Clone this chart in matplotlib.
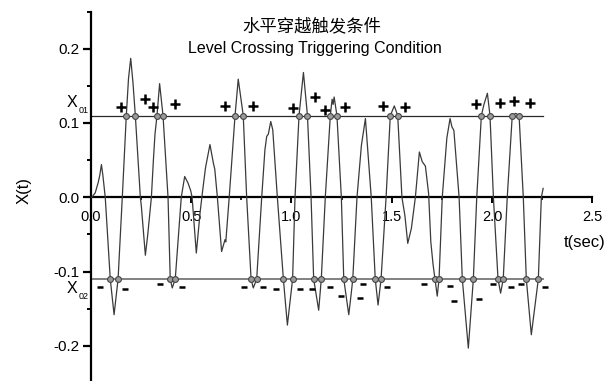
import matplotlib
matplotlib.use('Agg')
import matplotlib.pyplot as plt
from matplotlib.ticker import FixedLocator

# ---------------- data ----------------
t_sig = [0.005, 0.022, 0.037, 0.045, 0.053, 0.060, 0.072, 0.097, 0.116, 0.136,
         0.157, 0.177, 0.188, 0.199, 0.210, 0.222, 0.247, 0.252, 0.272, 0.284, 0.302, 0.312,
         0.320, 0.330, 0.343, 0.360, 0.385, 0.396, 0.406, 0.421, 0.451, 0.468,
         0.485, 0.498, 0.505, 0.526, 0.545, 0.558, 0.572, 0.594, 0.611, 0.618,
         0.631, 0.652, 0.669, 0.673, 0.690, 0.719, 0.735, 0.760, 0.777, 0.799,
         0.810, 0.827, 0.852, 0.868, 0.877, 0.885, 0.897, 0.907, 0.930, 0.960,
         0.980, 1.006, 1.018, 1.038, 1.060, 1.080, 1.098, 1.111, 1.136, 1.149,
         1.169, 1.194, 1.203, 1.208, 1.213, 1.227, 1.249, 1.261, 1.286, 1.298,
         1.306, 1.327, 1.349, 1.369, 1.398, 1.418, 1.432, 1.447, 1.472, 1.493,
         1.513, 1.530, 1.551, 1.566, 1.580, 1.598, 1.618, 1.638, 1.652, 1.668,
         1.684, 1.695, 1.706, 1.716, 1.727, 1.736, 1.752, 1.775, 1.791, 1.800,
         1.810, 1.836, 1.852, 1.882, 1.907, 1.924, 1.947, 1.960, 1.977, 1.990,
         2.007, 2.030, 2.043, 2.056, 2.076, 2.101, 2.118, 2.135, 2.156, 2.171,
         2.196, 2.231, 2.246, 2.255]
x_sig = [0.000, 0.006, 0.020, 0.030, 0.044, 0.030, 0.000, -0.110, -0.158, -0.110,
         0.000, 0.110, 0.160, 0.187, 0.155, 0.110, 0.000, -0.012, -0.078, -0.050, 0.000, 0.050,
         0.085, 0.110, 0.153, 0.110, 0.000, -0.110, -0.122, -0.110, 0.000, 0.028,
         0.019, 0.009, 0.000, -0.075, -0.020, 0.010, 0.040, 0.071, 0.046, 0.038,
         0.000, -0.073, -0.057, -0.060, 0.000, 0.110, 0.159, 0.110, 0.000, -0.110,
         -0.122, -0.110, 0.000, 0.064, 0.082, 0.085, 0.102, 0.091, 0.000, -0.110,
         -0.172, -0.110, 0.000, 0.110, 0.168, 0.110, 0.000, -0.110, -0.152, -0.110,
         0.000, 0.110, 0.132, 0.125, 0.135, 0.110, 0.000, -0.110, -0.158, -0.130,
         -0.110, 0.000, 0.070, 0.106, 0.000, -0.110, -0.145, -0.110, 0.000, 0.110,
         0.123, 0.110, 0.000, -0.025, -0.062, -0.042, 0.000, 0.061, 0.048, 0.042,
         0.005, -0.060, -0.090, -0.110, -0.133, -0.110, 0.000, 0.080, 0.106, 0.095,
         0.090, 0.000, -0.110, -0.203, -0.110, 0.000, 0.110, 0.125, 0.140, 0.110,
         0.000, -0.110, -0.129, -0.110, 0.000, 0.110, 0.113, 0.110, 0.000, -0.110,
         -0.185, -0.110, 0.000, 0.012]

level_up = 0.11
level_dn = -0.11
level_t_end = 2.253

t_cross_up = [0.177, 0.222, 0.330, 0.360, 0.719, 0.760, 1.038, 1.080, 1.194, 1.227,
              1.493, 1.530, 1.947, 1.990, 2.101, 2.135]
t_cross_dn = [0.097, 0.136, 0.396, 0.421, 0.799, 0.827, 0.960, 1.006, 1.111, 1.149,
              1.261, 1.306, 1.418, 1.447, 1.716, 1.736, 1.852, 1.907, 2.030, 2.056,
              2.171, 2.231]

plus_t = [0.153, 0.271, 0.311, 0.419, 0.669, 0.807, 1.009, 1.120, 1.166, 1.269,
          1.457, 1.568, 1.919, 2.040, 2.110, 2.190]
plus_x = [0.122, 0.132, 0.122, 0.125, 0.123, 0.123, 0.120, 0.135, 0.118, 0.122,
          0.123, 0.122, 0.126, 0.127, 0.129, 0.127]
minus_t = [0.047, 0.170, 0.344, 0.455, 0.763, 0.857, 0.922, 1.045, 1.101, 1.192,
           1.245, 1.340, 1.358, 1.478, 1.663, 1.791, 1.812, 1.937, 2.003, 2.095,
           2.145, 2.264]
minus_x = [-0.121, -0.123, -0.117, -0.121, -0.121, -0.121, -0.123, -0.123, -0.123, -0.121,
           -0.133, -0.136, -0.117, -0.121, -0.117, -0.120, -0.139, -0.137, -0.117, -0.121,
           -0.117, -0.121]

xticks = [0.0, 0.5, 1.0, 1.5, 2.0, 2.5]
xtick_labels = ['0.0', '0.5', '1.0', '1.5', '2.0', '2.5']
xminor = [0.25, 0.75, 1.25, 1.75, 2.25]
yticks = [-0.2, -0.1, 0.0, 0.1, 0.2]
ytick_labels = ['-0.2', '-0.1', '0.0', '0.1', '0.2']
yminor = [-0.25, -0.15, -0.05, 0.05, 0.15, 0.25]

title_cn = '水平穿越触发条件'
title_en = 'Level Crossing Triggering Condition'
xlabel = 't(sec)'
ylabel = 'X(t)'

# ---------------- figure ----------------
plt.rcParams['font.family'] = ['Liberation Sans', 'Noto Sans CJK SC', 'DejaVu Sans']

W, H = 616, 381
fig = plt.figure(figsize=(W / 100, H / 100), dpi=100)
ax = fig.add_axes([90.8 / W, 1 - 383.05 / H, (592.3 - 90.8) / W, 371.5 / H])
ax.set_xlim(0, 2.5)
ax.set_ylim(-0.25, 0.25)

for s in ['top', 'right']:
    ax.spines[s].set_visible(False)
ax.spines['bottom'].set_position(('data', 0))
ax.spines['left'].set_linewidth(1.6)
ax.spines['bottom'].set_linewidth(1.6)

ax.xaxis.set_major_locator(FixedLocator(xticks))
ax.set_xticklabels(xtick_labels)
ax.xaxis.set_minor_locator(FixedLocator(xminor))
ax.yaxis.set_major_locator(FixedLocator(yticks))
ax.set_yticklabels(ytick_labels)
ax.yaxis.set_minor_locator(FixedLocator(yminor))
ax.tick_params(axis='y', which='major', direction='out', length=6, width=1.6, labelsize=11, pad=2)
ax.tick_params(axis='y', which='minor', direction='out', length=3, width=1.4)
ax.tick_params(axis='x', which='major', direction='out', length=4.5, width=1.4, labelsize=10.5, pad=5)
ax.tick_params(axis='x', which='minor', direction='out', length=2.5, width=1.2)

# level lines
ax.plot([0, level_t_end], [level_up, level_up], color='#2a2a2a', lw=0.9, zorder=2)
ax.plot([0, level_t_end], [level_dn, level_dn], color='#777777', lw=1.3, zorder=2)

# signal
ax.plot(t_sig, x_sig, color='#3a3a3a', lw=0.9, zorder=3)

# crossing circles
ax.plot(t_cross_up, [level_up] * len(t_cross_up), 'o', ms=4.2, mfc='#9a9a9a',
        mec='#444444', mew=0.8, zorder=4)
ax.plot(t_cross_dn, [level_dn] * len(t_cross_dn), 'o', ms=4.2, mfc='#9a9a9a',
        mec='#444444', mew=0.8, zorder=4)

# + and - markers
ax.plot(plus_t, plus_x, '+', ms=7, mew=1.8, color='black', zorder=5, clip_on=False)
ax.plot(minus_t, minus_x, '_', ms=4.5, mew=1.8, color='black', zorder=5, clip_on=False)

# level labels X01, X02
fig.text(72.0 / W, 1 - 102.5 / H, 'X', fontsize=11.5, ha='center', va='center')
fig.text(83.5 / W, 1 - 110.0 / H, '01', fontsize=6.5, ha='center', va='center')
fig.text(72.0 / W, 1 - 288.5 / H, 'X', fontsize=11.5, ha='center', va='center')
fig.text(83.5 / W, 1 - 296.5 / H, '02', fontsize=6.5, ha='center', va='center')

# titles
fig.text(312 / W, 1 - 26 / H, title_cn, fontsize=12.5, ha='center', va='center',
         family=['Noto Sans CJK SC'])
fig.text(314.5 / W, 1 - 48 / H, title_en, fontsize=11.5, ha='center', va='center')

# axis labels
fig.text(585 / W, 1 - 242 / H, xlabel, fontsize=12, ha='center', va='center')
fig.text(24 / W, 1 - 191 / H, ylabel, fontsize=12, ha='center', va='center', rotation=90)

fig.savefig('out.png', dpi=100)
